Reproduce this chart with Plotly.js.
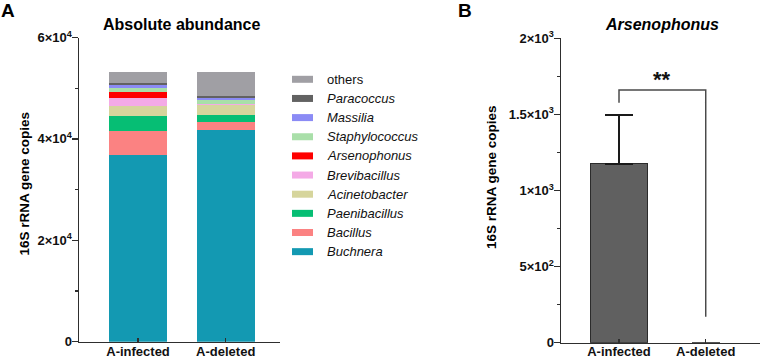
<!DOCTYPE html>
<html>
<head>
<meta charset="utf-8">
<script src="https://cdn.plot.ly/plotly-3.0.1.min.js"></script>
<style>
html,body{margin:0;padding:0;background:#fff;}
#chart{width:767px;height:358px;}
</style>
</head>
<body>
<div id="chart"></div>
<script>
// ---------- DATA ----------
const groups = ['A-infected', 'A-deleted'];
// stacking order bottom -> top
const genera = ['Buchnera','Bacillus','Paenibacillus','Acinetobacter','Brevibacillus','Arsenophonus','Staphylococcus','Massilia','Paracoccus','others'];
const colors = ['#1399b2','#fb8282','#06be74','#d6d59c','#f4aae6','#fe0000','#a9dfa9','#8b8bf5','#626262','#a09fa4'];
const infectedCopies = [36800, 4800, 2960, 1970, 1580, 1180, 790, 530, 335, 2290];
const deletedCopies  = [41750, 1520, 1440, 2030, 200, 0, 670, 390, 510, 4740];

const arsenoMean = [1175, 0];
const arsenoErrUp = [320, null];
const sigLabel = '**';
const sigBracketY = [1577, 1660, 1660, 171];

const yTicksA = [0, 20000, 40000, 60000];
const yTickTextA = ['0', '2×10<sup>4</sup>', '4×10<sup>4</sup>', '6×10<sup>4</sup>'];
const yTicksB = [0, 500, 1000, 1500, 2000];
const yTickTextB = ['0', '5×10<sup>2</sup>', '1×10<sup>3</sup>', '1.5×10<sup>3</sup>', '2×10<sup>3</sup>'];

// ---------- helpers ----------
const W = 767, H = 358;
const px = x => x / W;
const py = y => 1 - y / H;
const FONT = 'Liberation Sans, Arial, sans-serif';
const AX = '#2e2e2e';

const traces = [];
genera.forEach((g, i) => {
  traces.push({
    type: 'bar', name: g, x: groups, y: [infectedCopies[i], deletedCopies[i]],
    width: 0.66, marker: {color: colors[i], line: {width: 0}},
    xaxis: 'x', yaxis: 'y', showlegend: false, hoverinfo: 'name+y'
  });
});
traces.push({
  type: 'bar', x: groups, y: arsenoMean, width: 0.66, xaxis: 'x2', yaxis: 'y2',
  marker: {color: '#606060', line: {color: '#2b2b2b', width: [1, 0]}},
  error_y: {type: 'data', symmetric: false, array: arsenoErrUp, arrayminus: [0, null],
            color: '#1a1a1a', thickness: 1.5, width: 14},
  showlegend: false
});
traces.push({
  type: 'scatter', mode: 'lines', x: [groups[0], groups[0], groups[1], groups[1]], y: sigBracketY,
  xaxis: 'x2', yaxis: 'y2', line: {color: '#4a4a4a', width: 1.5}, showlegend: false, hoverinfo: 'skip'
});

const axisCommon = {
  showline: true, linecolor: AX, linewidth: 1.5, showgrid: false, zeroline: false,
  tickfont: {family: FONT, size: 13, color: '#111', weight: 700}
};

const layout = {
  width: W, height: H, margin: {l: 0, r: 0, t: 0, b: 0, autoexpand: false},
  paper_bgcolor: '#fff', plot_bgcolor: '#fff', barmode: 'stack', showlegend: false,
  xaxis: Object.assign({}, axisCommon, {
    domain: [px(79), px(280)], range: [-0.673, 1.619], type: 'category',
    ticks: 'inside', ticklen: 4, tickwidth: 1.2, tickcolor: AX, anchor: 'y', ticklabelstandoff: -3
  }),
  yaxis: Object.assign({}, axisCommon, {
    domain: [py(341.7), py(37.5)], range: [0, 60000], anchor: 'x',
    tickmode: 'array', tickvals: yTicksA, ticktext: yTickTextA,
    ticks: 'outside', ticklen: 6, tickwidth: 1.2, tickcolor: AX, ticklabelstandoff: -3,
    minor: {tick0: 0, dtick: 10000, ticks: 'outside', ticklen: 3, tickwidth: 1.2, tickcolor: AX}
  }),
  xaxis2: Object.assign({}, axisCommon, {
    domain: [px(561), px(760)], range: [-0.669, 1.626], type: 'category',
    ticks: 'inside', ticklen: 4, tickwidth: 1.2, tickcolor: AX, anchor: 'y2', ticklabelstandoff: -4
  }),
  yaxis2: Object.assign({}, axisCommon, {
    domain: [py(342.7), py(38.3)], range: [0, 2000], anchor: 'x2',
    tickmode: 'array', tickvals: yTicksB, ticktext: yTickTextB,
    ticks: 'outside', ticklen: 6, tickwidth: 1.2, tickcolor: AX, ticklabelstandoff: -3,
    minor: {tick0: 0, dtick: 250, ticks: 'outside', ticklen: 3, tickwidth: 1.2, tickcolor: AX}
  }),
  shapes: [],
  annotations: [
    {text: '<b>A</b>', x: px(8), y: py(10)},
    {text: '<b>B</b>', x: px(465.5), y: py(10)},
    {text: '<b>Absolute abundance</b>', x: px(181.7), y: py(24), font: {family: FONT, size: 16, color: '#000'}},
    {text: '<b><i>Arsenophonus</i></b>', x: px(662), y: py(25), font: {family: FONT, size: 16, color: '#000'}},
    {text: '<b>16S rRNA gene copies</b>', x: px(23.5), y: py(184), textangle: -90,
     font: {family: FONT, size: 13.5, color: '#000'}},
    {text: '<b>16S rRNA gene copies</b>', x: px(492), y: py(177), textangle: -90,
     font: {family: FONT, size: 13.5, color: '#000'}}
  ].map(a => Object.assign({xref: 'paper', yref: 'paper', xanchor: 'center', yanchor: 'middle', showarrow: false,
                            font: {family: FONT, size: 19, color: '#000'}}, a))
};
layout.annotations.push({text: '<b>' + sigLabel + '</b>', xref: 'x2', yref: 'y2', x: 0.5, y: 1634,
  xanchor: 'center', yanchor: 'bottom', showarrow: false, font: {family: FONT, size: 22, color: '#111'}});

// manual legend (top: others ... bottom: Buchnera), built from genera/colors arrays
const legendTop = 79.3, legendStep = 19.15;
for (let k = 0; k < genera.length; k++) {
  const i = genera.length - 1 - k;
  const yc = legendTop + k * legendStep;
  layout.shapes.push({type: 'rect', xref: 'paper', yref: 'paper',
    x0: px(292), x1: px(313), y0: py(yc + 3.5), y1: py(yc - 3.5),
    fillcolor: colors[i], line: {width: 0}});
  const label = genera[i] === 'others' ? genera[i] : '<i>' + genera[i] + '</i>';
  layout.annotations.push({text: label, xref: 'paper', yref: 'paper', x: px(325), y: py(yc),
    xanchor: 'left', yanchor: 'middle', showarrow: false,
    font: {family: FONT, size: 13, color: '#111'}});
}

Plotly.newPlot('chart', traces, layout, {staticPlot: true, displayModeBar: false});
</script>
</body>
</html>
